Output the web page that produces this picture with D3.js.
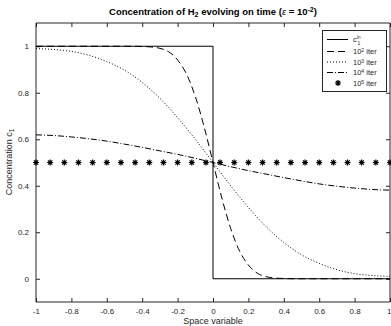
<!DOCTYPE html>
<html>
<head>
<meta charset="utf-8">
<script src="https://cdn.jsdelivr.net/npm/d3@7"></script>
<style>
    body { margin: 0; background: #fff; }
    svg { display: block; font-family: "Liberation Sans", Arial, sans-serif; }
</style>
</head>
<body>
<svg width="391" height="326"></svg>
<script>
const X_TICKS = [-1, -0.8, -0.6, -0.4, -0.2, 0, 0.2, 0.4, 0.6, 0.8, 1];
const Y_TICKS = [0, 0.2, 0.4, 0.6, 0.8, 1];

// initial profile c1^in
const stepX = [-1, 0, 0, 1];
const stepY = [1, 1, 0, 0];

// 10^2 iter
const dashX = [-1, -0.5, -0.4, -0.35, -0.3, -0.25, -0.2, -0.15, -0.1, -0.05, 0, 0.05, 0.1, 0.15, 0.2, 0.25, 0.3, 0.35, 0.4, 0.5, 1];
const dashY = [1, 1, 0.999, 0.997, 0.991, 0.976, 0.941, 0.881, 0.784, 0.653, 0.5, 0.347, 0.216, 0.119, 0.059, 0.024, 0.009, 0.003, 0.001, 0, 0];

// 10^3 iter
const dotX = [-1, -0.9, -0.8, -0.7, -0.6, -0.5, -0.4, -0.3, -0.2, -0.1, 0, 0.1, 0.2, 0.3, 0.4, 0.5, 0.6, 0.7, 0.8, 0.9, 1];
const dotY = [0.99, 0.986, 0.978, 0.961, 0.934, 0.897, 0.844, 0.776, 0.693, 0.6, 0.5, 0.4, 0.307, 0.224, 0.156, 0.103, 0.066, 0.039, 0.022, 0.014, 0.01];

// 10^4 iter
const dashDotX = [-1, -0.9, -0.8, -0.7, -0.6, -0.5, -0.4, -0.3, -0.2, -0.1, 0, 0.1, 0.2, 0.3, 0.4, 0.5, 0.6, 0.7, 0.8, 0.9, 1];
const dashDotY = [0.619, 0.616, 0.61, 0.602, 0.592, 0.579, 0.565, 0.55, 0.535, 0.518, 0.5, 0.482, 0.465, 0.45, 0.435, 0.421, 0.408, 0.398, 0.39, 0.384, 0.381];

// 10^5 iter (markers only)
const starX = [-1, -0.92, -0.84, -0.76, -0.68, -0.6, -0.52, -0.44, -0.36, -0.28, -0.2, -0.12, -0.04, 0.04, 0.12, 0.2, 0.28, 0.36, 0.44, 0.52, 0.6, 0.68, 0.76, 0.84, 0.92, 1];
const starY = [0.5, 0.5, 0.5, 0.5, 0.5, 0.5, 0.5, 0.5, 0.5, 0.5, 0.5, 0.5, 0.5, 0.5, 0.5, 0.5, 0.5, 0.5, 0.5, 0.5, 0.5, 0.5, 0.5, 0.5, 0.5, 0.5];

const AXIS = '#262626';
const svg = d3.select('svg');

const x = d3.scaleLinear().domain([-1, 1]).range([36, 390]);
const y = d3.scaleLinear().domain([-0.1, 1.1]).range([302, 23]);

const fmt = d => String(d);

// axes with inward ticks (MATLAB box style)
const gx = svg.append('g')
    .attr('transform', 'translate(0,302)')
    .call(d3.axisBottom(x).tickValues(X_TICKS).tickSize(-4).tickPadding(6).tickFormat(fmt));
const gxTop = svg.append('g')
    .attr('transform', 'translate(0,23)')
    .call(d3.axisTop(x).tickValues(X_TICKS).tickSize(-4).tickFormat(''));
const gy = svg.append('g')
    .attr('transform', 'translate(36,0)')
    .call(d3.axisLeft(y).tickValues(Y_TICKS).tickSize(-4).tickPadding(7).tickFormat(fmt));
const gyRight = svg.append('g')
    .attr('transform', 'translate(390,0)')
    .call(d3.axisRight(y).tickValues(Y_TICKS).tickSize(-4).tickFormat(''));

[gx, gxTop, gy, gyRight].forEach(g => {
    g.select('.domain').attr('stroke', AXIS).attr('stroke-width', 1);
    g.selectAll('.tick line').attr('stroke', AXIS);
    g.selectAll('.tick text').attr('fill', AXIS).style('font-size', '8px');
});
// keep the last x label inside the window
gx.selectAll('.tick text').filter(d => d === 1).attr('text-anchor', 'end').attr('dx', 1);
// clip domain end caps
[gx, gxTop].forEach(g => g.select('.domain').attr('d', 'M36,0H390'));
[gy, gyRight].forEach(g => g.select('.domain').attr('d', 'M0,23V302'));

const line = d3.line().x(d => x(d[0])).y(d => y(d[1])).curve(d3.curveMonotoneX);
const stepLine = d3.line().x(d => x(d[0])).y(d => y(d[1]));

const zip = (a, b) => a.map((v, i) => [v, b[i]]);

const plot = svg.append('g');
plot.append('path').attr('d', stepLine(zip(stepX, stepY)))
    .attr('fill', 'none').attr('stroke', '#000').attr('stroke-width', 1);
plot.append('path').attr('d', line(zip(dashX, dashY)))
    .attr('fill', 'none').attr('stroke', '#000').attr('stroke-width', 1).attr('stroke-dasharray', '7,4');
plot.append('path').attr('d', line(zip(dotX, dotY)))
    .attr('fill', 'none').attr('stroke', '#000').attr('stroke-width', 1).attr('stroke-dasharray', '1,2');
plot.append('path').attr('d', line(zip(dashDotX, dashDotY)))
    .attr('fill', 'none').attr('stroke', '#000').attr('stroke-width', 1).attr('stroke-dasharray', '6,2,1,2');

const starPath = (cx, cy, r) => {
    const k = r * 0.72;
    return `M${cx - r},${cy}H${cx + r}M${cx},${cy - r}V${cy + r}` +
        `M${cx - k},${cy - k}L${cx + k},${cy + k}M${cx - k},${cy + k}L${cx + k},${cy - k}`;
};
plot.selectAll('path.star')
    .data(zip(starX, starY))
    .enter()
    .append('path')
    .attr('class', 'star')
    .attr('d', d => starPath(x(d[0]), y(d[1]), 3))
    .attr('stroke', '#000').attr('stroke-width', 1.2).attr('fill', 'none');

// title
const title = svg.append('text')
    .attr('x', 213).attr('y', 15)
    .attr('text-anchor', 'middle')
    .style('font-size', '9.5px').style('font-weight', 'bold').attr('fill', '#000');
title.append('tspan').text('Concentration of H');
title.append('tspan').text('2').attr('baseline-shift', '-30%').style('font-size', '7px');
title.append('tspan').text(' evolving on time (');
title.append('tspan').text('ε').style('font-style', 'italic').style('font-weight', 'normal');
title.append('tspan').text(' = 10');
title.append('tspan').text('-2').attr('baseline-shift', '40%').style('font-size', '7px');
title.append('tspan').text(')');

// axis labels
svg.append('text')
    .attr('x', 213).attr('y', 324)
    .attr('text-anchor', 'middle')
    .style('font-size', '9px').attr('fill', AXIS)
    .text('Space variable');

const yl = svg.append('text')
    .attr('transform', 'translate(12,162) rotate(-90)')
    .attr('text-anchor', 'middle')
    .style('font-size', '9px').attr('fill', AXIS);
yl.append('tspan').text('Concentration c');
yl.append('tspan').text('1').attr('baseline-shift', '-30%').style('font-size', '6.5px');

// legend
const legend = svg.append('g');
legend.append('rect')
    .attr('x', 322.5).attr('y', 30.5).attr('width', 64).attr('height', 61)
    .attr('fill', '#fff').attr('stroke', AXIS).attr('stroke-width', 1);

const LEGEND_ROWS = [
    { y: 39.5, dash: null, label: ['c', '1', 'in'] },
    { y: 51.5, dash: '7,4', label: ['10', '2'] },
    { y: 62, dash: '1,2', label: ['10', '3'] },
    { y: 72.5, dash: '6,2,1,2', label: ['10', '4'] },
    { y: 83, star: true, label: ['10', '5'] }
];
LEGEND_ROWS.forEach((r, i) => {
    if (r.star) {
        legend.append('path').attr('d', starPath(338, r.y, 3))
            .attr('stroke', '#000').attr('stroke-width', 1.2).attr('fill', 'none');
    } else {
        legend.append('line')
            .attr('x1', 327).attr('x2', 348).attr('y1', r.y).attr('y2', r.y)
            .attr('stroke', '#000').attr('stroke-width', 1)
            .attr('stroke-dasharray', r.dash);
    }
    const t = legend.append('text')
        .attr('x', 353).attr('y', r.y + 2.5)
        .style('font-size', '7.5px').attr('fill', AXIS);
    if (i === 0) {
        t.append('tspan').text('c');
        t.append('tspan').text('in').attr('dy', -3).style('font-size', '5px');
        t.append('tspan').text('1').attr('x', 357.5).attr('dy', 5.5).style('font-size', '5px');
    } else {
        t.append('tspan').text(r.label[0]);
        t.append('tspan').text(r.label[1]).attr('baseline-shift', '40%').style('font-size', '5px');
        t.append('tspan').text(' iter');
    }
});
</script>
</body>
</html>
